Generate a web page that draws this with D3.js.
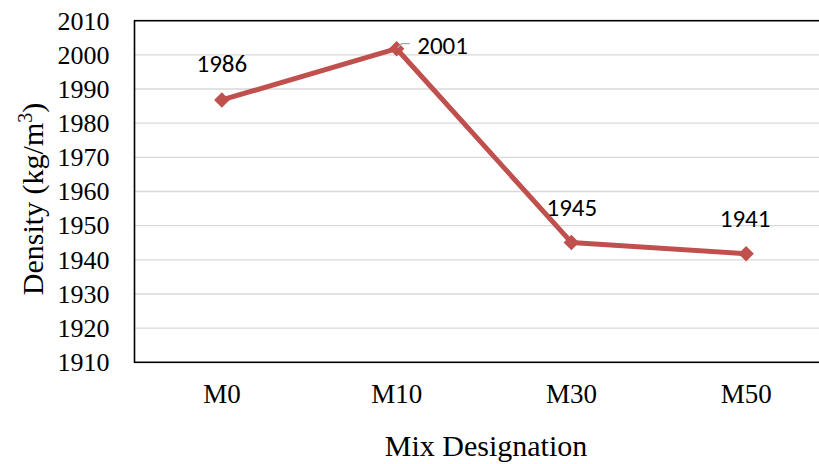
<!DOCTYPE html>
<html><head><meta charset="utf-8">
<script src="https://cdn.jsdelivr.net/npm/d3@7"></script>
<style>body{margin:0;background:#fff}svg{display:block}</style>
</head><body>
<svg id="c" width="819" height="464"></svg>
<script>
const categories = ["M0","M10","M30","M50"];
const densities = [1986.8, 2001.8, 1945.1, 1941.8];
const dataLabels = ["1986","2001","1945","1941"];
const yTicks = [1910,1920,1930,1940,1950,1960,1970,1980,1990,2000,2010];

const svg = d3.select("#c");
const L = 134.5, T = 20.7, B = 362.3, R = 833.5;
const x = d3.scaleBand().domain(categories).range([L, R]);
const y = d3.scaleLinear().domain([1910, 2010]).range([B, T]);
const cx = d => x(d) + x.bandwidth()/2;
const serif = "'Liberation Serif', 'Times New Roman', serif";

// gridlines
svg.append("g").selectAll("line").data(yTicks.slice(1,-1)).join("line")
  .attr("x1", L).attr("x2", R).attr("y1", d=>y(d)).attr("y2", d=>y(d))
  .attr("stroke", "#d9d9d9").attr("stroke-width", 1.3);

// frame
svg.append("rect").attr("x", L).attr("y", T).attr("width", R-L).attr("height", B-T)
  .attr("fill","none").attr("stroke","#000").attr("stroke-width",1.6);

// y axis
const ya = svg.append("g").attr("transform", `translate(${L},0)`)
  .call(d3.axisLeft(y).tickValues(yTicks).tickSize(0).tickPadding(25).tickFormat(d3.format("d")));
ya.select(".domain").remove();
ya.selectAll("text").attr("font-family", serif).attr("font-size", 26).attr("fill","#000");

// x axis
const xa = svg.append("g").attr("transform", `translate(0,${B})`)
  .call(d3.axisBottom(x).tickSize(0).tickPadding(21.5));
xa.select(".domain").remove();
xa.selectAll("text").attr("font-family", serif).attr("font-size", 27).attr("fill","#000");

// axis titles
svg.append("text").attr("x", 486).attr("y", 456).attr("text-anchor","middle")
  .attr("font-family", serif).attr("font-size", 30).text("Mix Designation");
const yt = svg.append("text").attr("transform","translate(43,199) rotate(-90)").attr("text-anchor","middle")
  .attr("font-family", serif).attr("font-size", 30);
yt.append("tspan").text("Density (kg/m");
yt.append("tspan").attr("dy",-11).attr("font-size",20).text("3");
yt.append("tspan").attr("dy",11).text(")");

// line
const line = d3.line().x((d,i)=>cx(categories[i])).y(d=>y(d));
svg.append("path").datum(densities).attr("d", line).attr("fill","none")
  .attr("stroke","#C0504D").attr("stroke-width",5).attr("stroke-linejoin","round");

// markers
svg.append("g").selectAll("path").data(densities).join("path")
  .attr("d", d3.symbol(d3.symbolSquare, 120)())
  .attr("transform",(d,i)=>`translate(${cx(categories[i])},${y(d)}) rotate(45)`)
  .attr("fill","#C0504D");

// leader line for 2001
const lx = cx("M10"), ly = y(densities[1]);
svg.append("path")
  .attr("d", `M${lx+1},${ly-1} L${lx+5},${ly-5} L${lx+13},${ly-5}`)
  .attr("fill","none").attr("stroke","#a6a6a6").attr("stroke-width",1.2);

// data labels
const off = [[0,-36],[46,-3.6],[0.5,-34.4],[-1,-34.7]];
svg.append("g").selectAll("text").data(densities).join("text")
  .attr("x",(d,i)=>cx(categories[i])+off[i][0])
  .attr("y",(d,i)=>y(d)+off[i][1])
  .attr("text-anchor","middle").attr("dominant-baseline","central")
  .attr("font-family","Carlito, Lato, 'Open Sans', sans-serif").attr("font-size",25).attr("fill","#000")
  .text((d,i)=>dataLabels[i]);
</script>
</body></html>
